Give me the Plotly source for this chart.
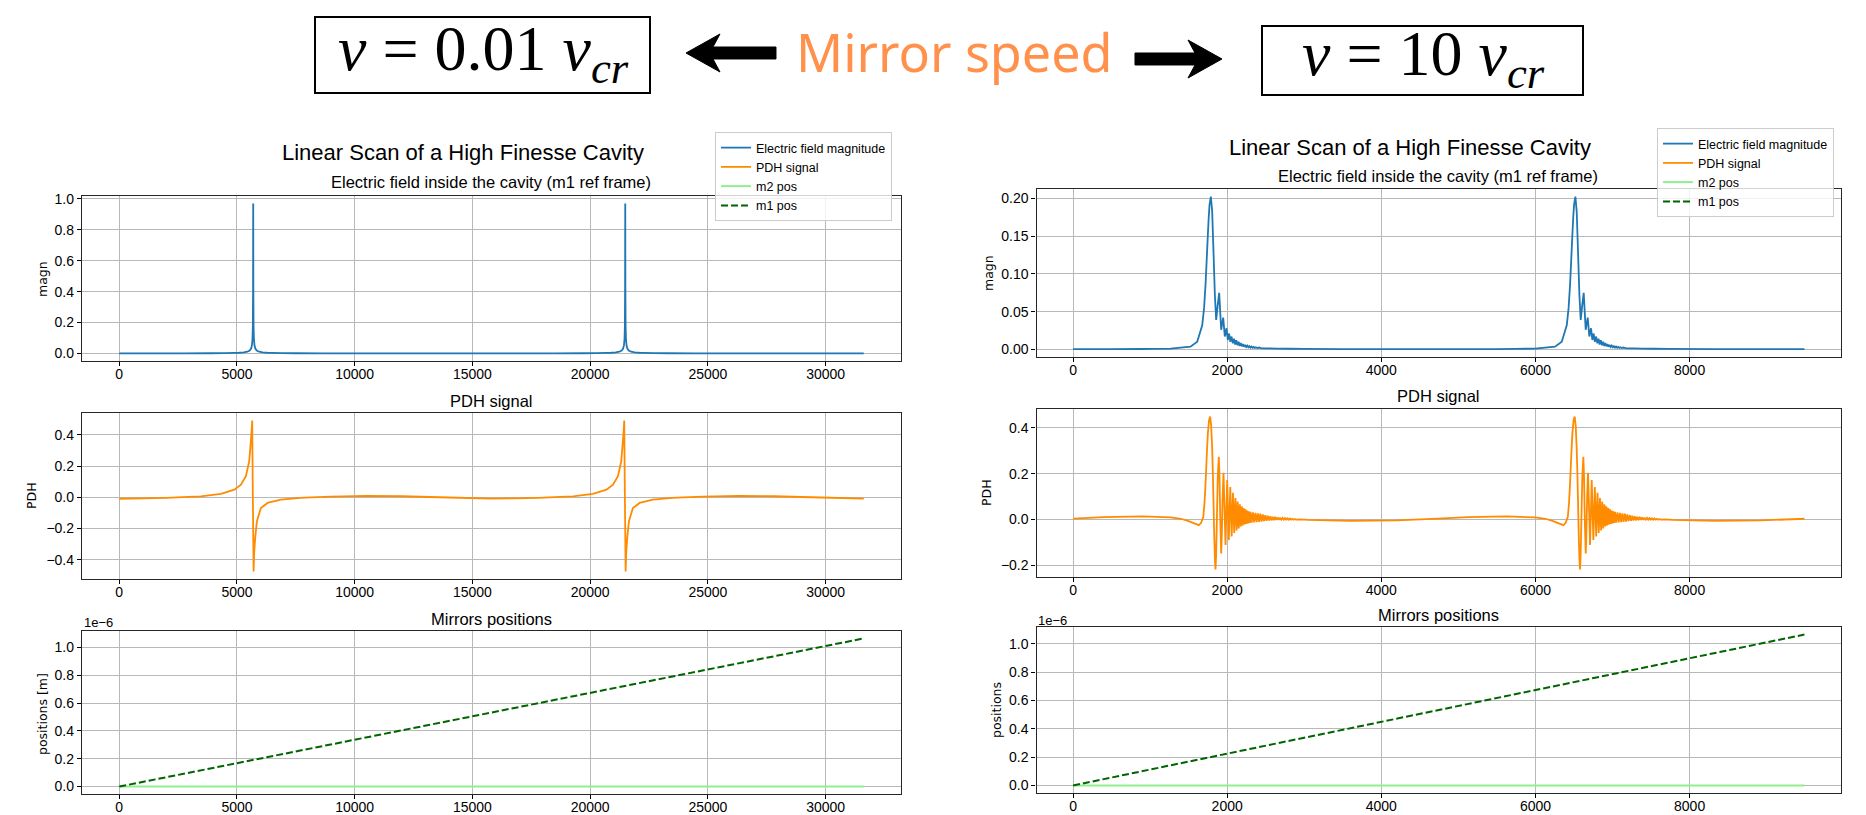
import plotly.graph_objects as go

W, H = 1866, 815

# ======================= DATA =======================
# ---- left column: v = 0.01 v_cr (slow scan) ----
SLOW_XMAX = 31620
SLOW_RES = [5690, 21490]          # resonance positions (sample index)

# electric field magnitude: profile around each resonance (offset, value)
SLOW_E_DX = [-3000, -1800, -1200, -800, -600, -400, -250, -150, -90, -55, -30, -15, -6, 0,
             6, 15, 30, 55, 90, 150, 250, 400, 600, 800, 1200, 1800, 3000]
SLOW_E_Y = [0.001, 0.0016, 0.0024, 0.0036, 0.0048, 0.0072, 0.0115, 0.019, 0.032, 0.052, 0.095, 0.18, 0.42, 0.97,
            0.42, 0.18, 0.095, 0.052, 0.032, 0.019, 0.0115, 0.0072, 0.0048, 0.0036, 0.0024, 0.0016, 0.001]
SLOW_E_BASE_X = [0, 1000, 2000, 9500, 11500, 13700, 16000, 17800, 25200, 27500, 29600, 31620]
SLOW_E_BASE_Y = [0.0005, 0.0006, 0.0008, 0.0008, 0.0005, 0.0004, 0.0005, 0.0008, 0.0008, 0.0005, 0.0004, 0.0004]

# PDH signal: profile around each resonance
SLOW_PDH_DX = [-3000, -2220, -1370, -800, -520, -310, -170, -100, -60, -43, -15, 16,
               40, 84, 156, 326, 610, 1174, 2000, 2450]
SLOW_PDH_Y = [0.001, 0.0064, 0.022, 0.049, 0.081, 0.135, 0.231, 0.36, 0.44, 0.492, 0.0, -0.475,
              -0.36, -0.26, -0.154, -0.068, -0.036, -0.015, -0.004, 0.0]
SLOW_PDH_BASE_X = [0, 1000, 2000, 9000, 10500, 12000, 14000, 15800, 16800, 17800,
                   24800, 26300, 27800, 29800, 31620]
SLOW_PDH_BASE_Y = [-0.009, -0.007, -0.003, 0.005, 0.009, 0.007, -0.001, -0.008, -0.007, -0.003,
                   0.005, 0.009, 0.007, -0.001, -0.008]

# mirror positions [m]
SLOW_POS_X = [0, 31620]
SLOW_M2 = [0.0, 0.0]
SLOW_M1 = [0.0, 1.064e-6]

# ---- right column: v = 10 v_cr (fast scan) ----
FAST_XMAX = 9490
FAST_RES = [1790, 6520]

FAST_E_DX = [-790, -525, -266, -179, -114, -90, -71, -41, -30, -19, -2, 15, 32, 50, 67, 86, 106, 119, 132,
             158, 179, 201, 218, 235, 251, 267, 283, 298, 313, 328, 343, 358, 372, 386, 400, 414, 428,
             442, 456, 470, 484, 498, 512, 526, 540, 554, 568, 582, 600, 620, 650, 690, 760, 860,
             1010, 1210]
FAST_E_Y = [0.0006, 0.001, 0.0035, 0.010, 0.032, 0.055, 0.086, 0.152, 0.175, 0.192, 0.2025, 0.183, 0.130,
            0.072, 0.039, 0.058, 0.075, 0.050, 0.026, 0.042, 0.017, 0.028, 0.0124, 0.021, 0.010, 0.017,
            0.008, 0.014, 0.0065, 0.012, 0.0055, 0.010, 0.0045, 0.0085, 0.004, 0.007, 0.0035, 0.006,
            0.003, 0.005, 0.0027, 0.0043, 0.0024, 0.0037, 0.0021, 0.0032, 0.0019, 0.0028, 0.0017,
            0.0024, 0.0016, 0.0014, 0.0012, 0.001, 0.0008, 0.0006]
FAST_E_BASE_X = [0, 500, 900, 3500, 4200, 4900, 5500, 8300, 9000, 9490]
FAST_E_BASE_Y = [0.0003, 0.0004, 0.0005, 0.0004, 0.0003, 0.0003, 0.0004, 0.0004, 0.0003, 0.0003]

FAST_PDH_DX = [-525, -390, -290, -210, -158, -128, -100, -85, -71, -55, -41, -25, -11, 2, 15, 24, 32,
               41, 50, 58, 66, 76, 88, 101, 110, 120, 132, 140, 150, 162, 175, 188,
               210, 231, 250, 268, 285, 301, 317, 332, 346, 360, 374, 387, 400, 412, 424, 436,
               448, 459, 470, 481, 491, 502, 512, 528, 544, 560, 576, 592, 608, 624, 640, 656,
               672, 688, 704, 720, 736, 752, 768, 784, 800, 816, 832, 848, 864, 880, 896, 912,
               928, 944, 960, 976, 992, 1008, 1024, 1040, 1056, 1072, 1088, 1104, 1160, 1260]
FAST_PDH_Y = [0.009, 0.003, -0.007, -0.018, -0.025, -0.015, 0.012, 0.07, 0.157, 0.28, 0.376, 0.435,
              0.449, 0.41, 0.31, 0.20, 0.08, -0.061, -0.17, -0.218, -0.16, 0.0, 0.19, 0.274, 0.19,
              0.0, -0.149, -0.07, 0.09, 0.204, 0.05, -0.112,
              0.172, -0.090, 0.142, -0.074, 0.117, -0.059, 0.094, -0.048, 0.078, -0.039, 0.066,
              -0.031, 0.057, -0.026, 0.050, -0.022, 0.044, -0.020, 0.039, -0.017, 0.035, -0.015,
              0.033, -0.014, 0.031, -0.013, 0.029, -0.012, 0.027, -0.011, 0.025, -0.009, 0.022,
              -0.007, 0.019, -0.006, 0.016, -0.005, 0.014, -0.004, 0.012, -0.003, 0.011, -0.002,
              0.009, -0.002, 0.008, -0.001, 0.007, -0.001, 0.006, -0.001, 0.005, -0.001, 0.004,
              -0.001, 0.003, -0.001, 0.002, -0.001, 0.0, -0.002]
FAST_PDH_BASE_X = [0, 400, 900, 3600, 4200, 4730, 5130, 5630, 8330, 8930, 9490]
FAST_PDH_BASE_Y = [0.004, 0.010, 0.013, -0.006, -0.004, 0.004, 0.010, 0.013, -0.006, -0.004, 0.003]

FAST_POS_X = [0, 9490]
FAST_M2 = [0.0, 0.0]
FAST_M1 = [0.0, 1.066e-6]

POS_TICKS = [0.0, 0.2, 0.4, 0.6, 0.8, 1.0]   # in units of 1e-6 m
POS_SCALE = 1e-6

LEGEND_NAMES = ["Electric field magnitude", "PDH signal", "m2 pos", "m1 pos"]
C_E, C_PDH, C_M2, C_M1 = "#1f77b4", "#ff8c00", "#90ee90", "#006400"


# ======================= helpers =======================
def merge(base_x, base_y, centers, dx, dy):
    pts = list(zip(base_x, base_y)) + [(c + d, v) for c in centers for d, v in zip(dx, dy)]
    pts.sort()
    return [p[0] for p in pts], [p[1] for p in pts]


def px(x):
    return x / W


def py(y):
    return 1 - y / H


FONT = "Liberation Sans"
LBL_FONT = "DejaVu Sans"

fig = go.Figure()

# ---------- traces ----------
sides = [
    dict(leg="legend", ax=["", "2", "3"], res=SLOW_RES,
         e=(SLOW_E_BASE_X, SLOW_E_BASE_Y, SLOW_E_DX, SLOW_E_Y),
         p=(SLOW_PDH_BASE_X, SLOW_PDH_BASE_Y, SLOW_PDH_DX, SLOW_PDH_Y),
         pos=(SLOW_POS_X, SLOW_M2, SLOW_M1)),
    dict(leg="legend2", ax=["4", "5", "6"], res=FAST_RES,
         e=(FAST_E_BASE_X, FAST_E_BASE_Y, FAST_E_DX, FAST_E_Y),
         p=(FAST_PDH_BASE_X, FAST_PDH_BASE_Y, FAST_PDH_DX, FAST_PDH_Y),
         pos=(FAST_POS_X, FAST_M2, FAST_M1)),
]

for s in sides:
    a1, a2, a3 = s["ax"]
    ex, ey = merge(s["e"][0], s["e"][1], s["res"], s["e"][2], s["e"][3])
    fig.add_trace(go.Scatter(x=ex, y=ey, mode="lines", name=LEGEND_NAMES[0],
                             line=dict(color=C_E, width=1.8, simplify=False),
                             xaxis="x" + a1, yaxis="y" + a1, legend=s["leg"]))
    pxs, pys = merge(s["p"][0], s["p"][1], s["res"], s["p"][2], s["p"][3])
    fig.add_trace(go.Scatter(x=pxs, y=pys, mode="lines", name=LEGEND_NAMES[1],
                             line=dict(color=C_PDH, width=1.8, simplify=False),
                             xaxis="x" + a2, yaxis="y" + a2, legend=s["leg"]))
    fig.add_trace(go.Scatter(x=s["pos"][0], y=s["pos"][1], mode="lines", name=LEGEND_NAMES[2],
                             line=dict(color=C_M2, width=2),
                             xaxis="x" + a3, yaxis="y" + a3, legend=s["leg"]))
    fig.add_trace(go.Scatter(x=s["pos"][0], y=s["pos"][2], mode="lines", name=LEGEND_NAMES[3],
                             line=dict(color=C_M1, width=2, dash="7px,3px"),
                             xaxis="x" + a3, yaxis="y" + a3, legend=s["leg"]))

# ---------- axes ----------
XL = [px(82), px(901)]
XR = [px(1036.5), px(1841)]
DOM = {
    "1": (XL, [py(361), py(196)]),
    "2": (XL, [py(579), py(413)]),
    "3": (XL, [py(794), py(631)]),
    "4": (XR, [py(357), py(189)]),
    "5": (XR, [py(577), py(409)]),
    "6": (XR, [py(793), py(627)]),
}


def pad(lo, hi):
    d = hi - lo
    return [lo - 0.05 * d, hi + 0.05 * d]


common = dict(showgrid=True, gridcolor="#b8b8b8", ticks="outside", ticklen=4, tickwidth=1,
              tickcolor="#000", showline=True, mirror=True, linecolor="#262626", linewidth=1.3,
              zeroline=False, tickfont=dict(family=FONT, size=14, color="#000"))

xranges = {"1": pad(0, SLOW_XMAX), "2": pad(0, SLOW_XMAX), "3": pad(0, SLOW_XMAX),
           "4": pad(0, FAST_XMAX), "5": pad(0, FAST_XMAX), "6": pad(0, FAST_XMAX)}
xdt = {"1": 5000, "2": 5000, "3": 5000, "4": 2000, "5": 2000, "6": 2000}

yinfo = {
    "1": dict(range=pad(0, max(SLOW_E_Y)), dtick=0.2, tick0=0, tickformat=".1f"),
    "2": dict(range=pad(min(SLOW_PDH_Y), max(SLOW_PDH_Y)), dtick=0.2, tick0=0, tickformat=".1f"),
    "3": dict(range=pad(0, max(SLOW_M1)), tickmode="array",
              tickvals=[t * POS_SCALE for t in POS_TICKS], ticktext=[f"{t:.1f}" for t in POS_TICKS]),
    "4": dict(range=pad(0, max(FAST_E_Y)), dtick=0.05, tick0=0, tickformat=".2f"),
    "5": dict(range=pad(min(FAST_PDH_Y), max(FAST_PDH_Y)), dtick=0.2, tick0=0, tickformat=".1f"),
    "6": dict(range=pad(0, max(FAST_M1)), tickmode="array",
              tickvals=[t * POS_SCALE for t in POS_TICKS], ticktext=[f"{t:.1f}" for t in POS_TICKS]),
}

layout_axes = {}
for k, (xd, yd) in DOM.items():
    xname = "xaxis" if k == "1" else "xaxis" + k
    yname = "yaxis" if k == "1" else "yaxis" + k
    anchor_x = "x" if k == "1" else "x" + k
    anchor_y = "y" if k == "1" else "y" + k
    layout_axes[xname] = dict(domain=xd, anchor=anchor_y, range=xranges[k], dtick=xdt[k], tick0=0,
                              tickformat="d", gridwidth=1, ticklabelstandoff=-4, **common)
    layout_axes[yname] = dict(domain=yd, anchor=anchor_x, gridwidth=1.3, **yinfo[k], **common)

# ---------- annotations ----------
ann = []


def text(x, y, t, size, family=FONT, color="#000", angle=0, xanchor="center", yanchor="middle"):
    ann.append(dict(x=px(x), y=py(y), xref="paper", yref="paper", text=t, showarrow=False,
                    textangle=angle, xanchor=xanchor, yanchor=yanchor,
                    font=dict(family=family, size=size, color=color)))


# suptitles and subplot titles
text(463, 152, "Linear Scan of a High Finesse Cavity", 22)
text(1410, 147, "Linear Scan of a High Finesse Cavity", 22)
text(491, 182, "Electric field inside the cavity (m1 ref frame)", 16.5)
text(1438, 176, "Electric field inside the cavity (m1 ref frame)", 16.5)
text(491, 401, "PDH signal", 16.5)
text(1438, 396, "PDH signal", 16.5)
text(491, 619, "Mirrors positions", 16.5)
text(1438, 615, "Mirrors positions", 16.5)

# y-axis labels
text(42, 279, "magn", 12.5, family=LBL_FONT, angle=-90)
text(31, 496, "PDH", 12.5, family=LBL_FONT, angle=-90)
text(42, 714, "positions [m]", 12.5, family=LBL_FONT, angle=-90)
text(988, 273, "magn", 12.5, family=LBL_FONT, angle=-90)
text(987, 493, "PDH", 12.5, family=LBL_FONT, angle=-90)
text(996, 710, "positions", 12.5, family=LBL_FONT, angle=-90)

# offset text
text(82, 622, "1e\u22126", 13, xanchor="left")
text(1036, 620, "1e\u22126", 13, xanchor="left")

# header
SERIF = "Liberation Serif"
text(483, 53, "<i>v</i> = 0.01 <i>v</i><sub><i>cr</i></sub>", 64, family=SERIF)
text(1423, 58, "<i>v</i> = 10 <i>v</i><sub><i>cr</i></sub>", 64, family=SERIF)
text(954, 52, "Mirror speed", 52, family="Noto Sans", color="#FF914D")

# ---------- shapes (header boxes and arrows) ----------
shapes = []
for (x0, y0, x1, y1) in [(315, 17, 650, 93), (1262, 26, 1583, 95)]:
    shapes.append(dict(type="rect", xref="paper", yref="paper", x0=px(x0), x1=px(x1),
                       y0=py(y1), y1=py(y0), line=dict(color="#000", width=2), fillcolor="rgba(0,0,0,0)"))


def path(points):
    return "M " + " L ".join(f"{px(a):.5f},{py(b):.5f}" for a, b in points) + " Z"


left_arrow = [(686, 53), (720, 34), (713, 47), (776, 47), (776, 59), (713, 59), (720, 72)]
right_arrow = [(1222, 59), (1188, 40), (1195, 53), (1135, 53), (1135, 65), (1195, 65), (1188, 78)]
for pts in (left_arrow, right_arrow):
    shapes.append(dict(type="path", xref="paper", yref="paper", path=path(pts),
                       fillcolor="#000", line=dict(color="#000", width=1)))

legend_style = dict(xanchor="left", yanchor="top", bgcolor="rgba(255,255,255,0.8)",
                    bordercolor="#cccccc", borderwidth=1, tracegroupgap=0,
                    font=dict(family=FONT, size=12.5, color="#000"))

fig.update_layout(
    template="none",
    width=W, height=H,
    margin=dict(l=0, r=0, t=0, b=0),
    paper_bgcolor="#ffffff", plot_bgcolor="#ffffff",
    showlegend=True,
    legend=dict(x=px(715), y=py(132), **legend_style),
    legend2=dict(x=px(1657), y=py(128), **legend_style),
    annotations=ann,
    shapes=shapes,
    **layout_axes,
)

fig.write_html("out.html", config={"displayModeBar": False},
               post_script="document.body.style.margin='0px';document.body.style.overflow='hidden';")
